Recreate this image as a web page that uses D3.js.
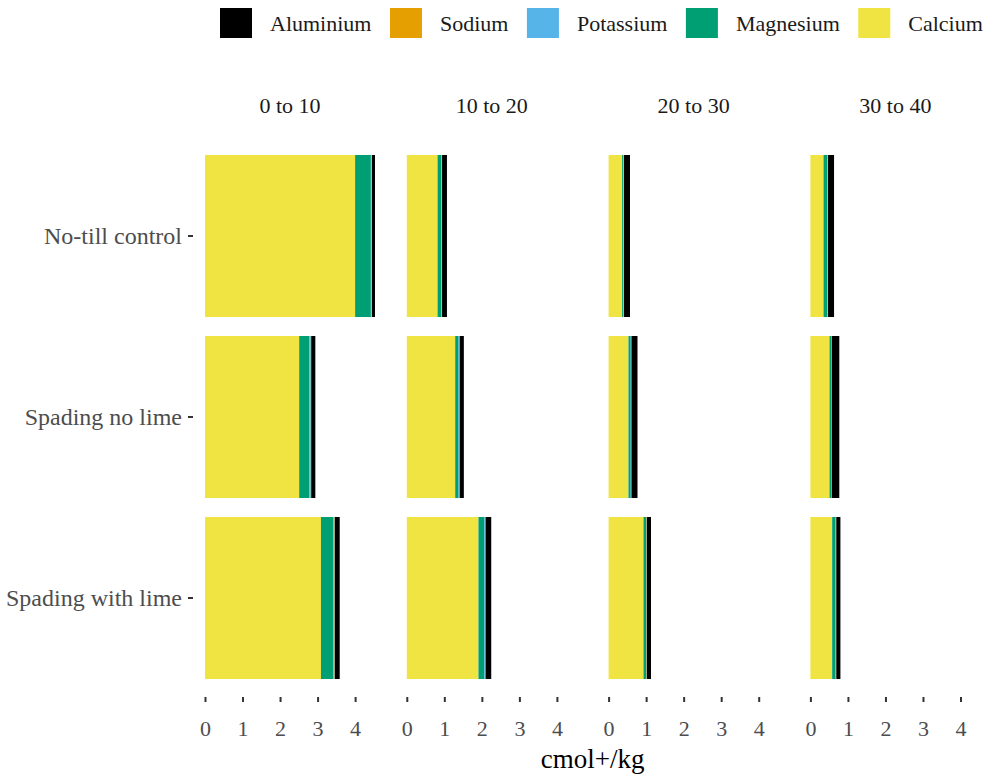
<!DOCTYPE html>
<html lang="en">
<head>
    <meta charset="UTF-8">
    <title>Exchangeable cations by depth</title>
    <script src="https://d3js.org/d3.v7.min.js"></script>
    <style>
        body {
            margin: 0;
            background: #ffffff;
        }
        svg text {
            font-family: "Liberation Serif", "Times New Roman", "DejaVu Serif", serif !important;
        }
    </style>
</head>
<body>
<div id="chart"></div>
<script>
    // categories
    var depths = ["0 to 10", "10 to 20", "20 to 30", "30 to 40"];
    var treatments = ["No-till control", "Spading no lime", "Spading with lime"];
    var cations = ["Aluminium", "Sodium", "Potassium", "Magnesium", "Calcium"];
    var xTicks = [0, 1, 2, 3, 4];

    // values in cmol+/kg, rows = treatments, columns = depths
    var calcium   = [[4.00, 0.82, 0.36, 0.35], [2.51, 1.29, 0.53, 0.51], [3.09, 1.91, 0.93, 0.58]];
    var magnesium = [[0.42, 0.10, 0.03, 0.10], [0.27, 0.09, 0.06, 0.04], [0.33, 0.16, 0.07, 0.09]];
    var potassium = [[0.02, 0.01, 0.01, 0.01], [0.04, 0.02, 0.01, 0.01], [0.03, 0.02, 0.01, 0.01]];
    var sodium    = [[0.01, 0.01, 0.01, 0.01], [0.01, 0.01, 0.01, 0.01], [0.01, 0.01, 0.01, 0.01]];
    var aluminium = [[0.08, 0.13, 0.16, 0.16], [0.11, 0.11, 0.16, 0.20], [0.13, 0.15, 0.11, 0.11]];

    var colours = {
        Aluminium: "#000000",
        Sodium: "#E69F00",
        Potassium: "#56B4E9",
        Magnesium: "#009E73",
        Calcium: "#F0E442"
    };
    var values = {
        Aluminium: aluminium,
        Sodium: sodium,
        Potassium: potassium,
        Magnesium: magnesium,
        Calcium: calcium
    };

    var width = 984, height = 775;
    var panelLeft = 205, panelW = 170, panelStep = 201.8;
    var serif = "Liberation Serif, Times New Roman, serif";

    var svg = d3.select("#chart").append("svg")
        .attr("width", width)
        .attr("height", height)
        .attr("font-family", serif);

    // long table; Calcium stacked first (left), Aluminium last (right)
    var stackOrder = cations.slice().reverse();
    var rows = [];
    treatments.forEach(function(t, i) {
        depths.forEach(function(d, j) {
            var row = {treatment: t, depth: d};
            cations.forEach(function(c) { row[c] = values[c][i][j]; });
            rows.push(row);
        });
    });
    var series = d3.stack().keys(stackOrder)(rows);

    var maxTotal = d3.max(rows, function(r) {
        return d3.sum(cations, function(c) { return r[c]; });
    });

    var x = d3.scaleLinear().domain([0, maxTotal]).range([0, panelW]);
    var y = d3.scaleBand().domain(treatments).range([155, 679])
        .paddingInner(0.105).paddingOuter(0);
    var fx = d3.scaleOrdinal().domain(depths)
        .range(depths.map(function(d, i) { return panelLeft + i * panelStep; }));

    // panels
    depths.forEach(function(depth) {
        var g = svg.append("g").attr("transform", "translate(" + fx(depth) + ",0)");

        series.forEach(function(s) {
            g.selectAll(null)
                .data(s.filter(function(p) { return p.data.depth === depth; }))
                .enter().append("rect")
                .attr("x", function(p) { return x(p[0]); })
                .attr("width", function(p) { return x(p[1]) - x(p[0]); })
                .attr("y", function(p) { return y(p.data.treatment); })
                .attr("height", y.bandwidth())
                .attr("fill", colours[s.key]);
        });

        // strip label
        g.append("text")
            .attr("x", panelW / 2)
            .attr("y", 113)
            .attr("text-anchor", "middle")
            .attr("font-size", 22)
            .attr("fill", "#1a1a1a")
            .text(depth);

        // x axis
        var ax = g.append("g")
            .attr("transform", "translate(0,697)")
            .call(d3.axisBottom(x).tickValues(xTicks).tickFormat(d3.format("d"))
                .tickSize(5).tickPadding(18));
        ax.attr("font-family", serif);
        ax.select(".domain").remove();
        ax.selectAll(".tick line").attr("stroke", "#333333").attr("stroke-width", 2);
        ax.selectAll(".tick text").attr("font-size", 22).attr("fill", "#4d4d4d");
    });

    // y axis
    var ay = svg.append("g")
        .attr("transform", "translate(193,0)")
        .call(d3.axisLeft(y).tickSize(5).tickPadding(6));
    ay.attr("font-family", serif);
    ay.select(".domain").remove();
    ay.selectAll(".tick line").attr("stroke", "#333333").attr("stroke-width", 2);
    ay.selectAll(".tick text").attr("font-size", 24).attr("fill", "#4d4d4d");

    // x axis title
    svg.append("text")
        .attr("x", (panelLeft + fx(depths[3]) + panelW) / 2)
        .attr("y", 768)
        .attr("text-anchor", "middle")
        .attr("font-size", 27)
        .attr("fill", "#000000")
        .text("cmol+/kg");

    // legend
    var lx = 220;
    cations.forEach(function(c) {
        svg.append("rect")
            .attr("x", lx).attr("y", 8)
            .attr("width", 32).attr("height", 30)
            .attr("fill", colours[c]);
        var t = svg.append("text")
            .attr("x", lx + 50)
            .attr("y", 31)
            .attr("font-size", 22)
            .attr("fill", "#1a1a1a")
            .text(c);
        lx = lx + 50 + t.node().getComputedTextLength() + 18.5;
    });
</script>
</body>
</html>
